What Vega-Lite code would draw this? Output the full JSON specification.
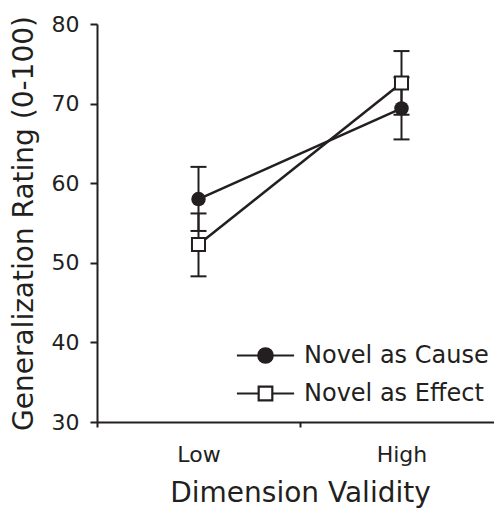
{
  "$schema": "https://vega.github.io/schema/vega-lite/v6.json",
  "autosize": "none",
  "padding": {"left": 97, "top": 24, "right": 0, "bottom": 86},
  "width": 397,
  "height": 398,
  "background": "white",
  "config": {
    "view": {"stroke": null},
    "font": "DejaVu Sans",
    "axis": {
      "grid": false,
      "domainColor": "#231f20",
      "domainWidth": 2,
      "tickColor": "#231f20",
      "tickWidth": 2,
      "labelColor": "#231f20",
      "labelFont": "DejaVu Sans",
      "labelFontSize": 22,
      "titleColor": "#231f20",
      "titleFont": "DejaVu Sans",
      "titleFontSize": 28,
      "titleFontWeight": "normal"
    }
  },
  "data": {
    "values": [
      {"validity": "Low", "series": "Novel as Cause", "mean": 58.0, "lo": 54.0, "hi": 62.05},
      {"validity": "High", "series": "Novel as Cause", "mean": 69.4, "lo": 65.5, "hi": 73.3},
      {"validity": "Low", "series": "Novel as Effect", "mean": 52.3, "lo": 48.3, "hi": 56.2},
      {"validity": "High", "series": "Novel as Effect", "mean": 72.6, "lo": 68.6, "hi": 76.6}
    ]
  },
  "encoding": {
    "x": {
      "field": "validity",
      "type": "nominal",
      "sort": ["Low", "High"],
      "scale": {"domain": ["Low", "High"], "range": [0, 406], "paddingInner": 0, "paddingOuter": 0},
      "axis": {
        "title": "Dimension Validity",
        "labelAngle": 0,
        "tickBand": "extent",
        "tickSize": 5,
        "labelPadding": 17,
        "titlePadding": 14
      }
    }
  },
  "layer": [
    {
      "mark": {"type": "line", "color": "#231f20", "strokeWidth": 2.5},
      "encoding": {
        "y": {
          "field": "mean",
          "type": "quantitative",
          "scale": {"domain": [30, 80], "nice": false, "zero": false},
          "axis": {
            "title": "Generalization Rating (0-100)",
            "values": [30, 40, 50, 60, 70, 80],
            "tickSize": 7,
            "labelPadding": 11,
            "titlePadding": 13
          }
        },
        "detail": {"field": "series", "type": "nominal"}
      }
    },
    {
      "mark": {"type": "rule", "color": "#231f20", "strokeWidth": 2},
      "encoding": {
        "y": {"field": "lo", "type": "quantitative"},
        "y2": {"field": "hi"}
      }
    },
    {
      "mark": {"type": "tick", "color": "#231f20", "size": 16, "thickness": 2, "opacity": 1},
      "encoding": {"y": {"field": "lo", "type": "quantitative"}}
    },
    {
      "mark": {"type": "tick", "color": "#231f20", "size": 16, "thickness": 2, "opacity": 1},
      "encoding": {"y": {"field": "hi", "type": "quantitative"}}
    },
    {
      "transform": [{"filter": "datum.series === 'Novel as Cause'"}],
      "mark": {"type": "point", "shape": "circle", "filled": true, "color": "#231f20", "size": 210, "opacity": 1},
      "encoding": {"y": {"field": "mean", "type": "quantitative"}}
    },
    {
      "transform": [{"filter": "datum.series === 'Novel as Effect'"}],
      "mark": {"type": "point", "shape": "square", "fill": "white", "stroke": "#231f20", "strokeWidth": 2, "size": 170, "opacity": 1},
      "encoding": {"y": {"field": "mean", "type": "quantitative"}}
    },
    {
      "transform": [{"filter": "false"}],
      "mark": {"type": "point", "opacity": 1, "stroke": "#231f20", "strokeWidth": 2.2},
      "encoding": {
        "y": {"field": "mean", "type": "quantitative"},
        "shape": {
          "field": "series",
          "type": "nominal",
          "scale": {
            "domain": ["Novel as Cause", "Novel as Effect"],
            "range": [
              "M-2.6,0H2.6M-0.66,0A0.66,0.66,0,1,0,0.66,0A0.66,0.66,0,1,0,-0.66,0ZM-0.5,0A0.5,0.5,0,1,0,0.5,0A0.5,0.5,0,1,0,-0.5,0ZM-0.34,0A0.34,0.34,0,1,0,0.34,0A0.34,0.34,0,1,0,-0.34,0ZM-0.18,0A0.18,0.18,0,1,0,0.18,0A0.18,0.18,0,1,0,-0.18,0ZM-0.05,0A0.05,0.05,0,1,0,0.05,0A0.05,0.05,0,1,0,-0.05,0Z",
              "M-2.6,0H-0.62M0.62,0H2.6M-0.62,-0.62H0.62V0.62H-0.62Z"
            ]
          },
          "legend": {
            "orient": "none",
            "legendX": 156,
            "legendY": 319,
            "title": null,
            "symbolSize": 484,
            "symbolStrokeColor": "#231f20",
            "symbolStrokeWidth": 2.2,
            "labelFontSize": 24,
            "labelFont": "DejaVu Sans",
            "labelColor": "#231f20",
            "labelLimit": 0,
            "labelOffset": 26,
            "rowPadding": 13
          }
        }
      }
    }
  ]
}
